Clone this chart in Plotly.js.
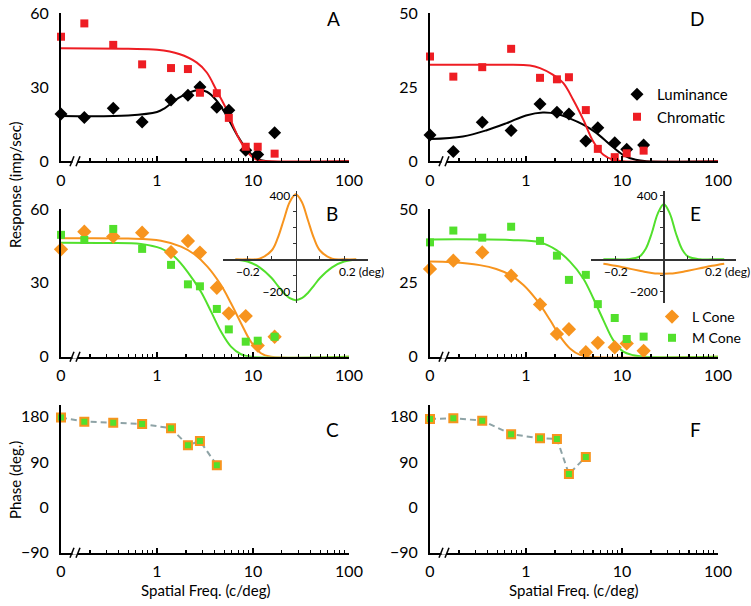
<!DOCTYPE html>
<html>
<head>
<meta charset="utf-8">
<script src="https://cdn.plot.ly/plotly-3.0.1.min.js"></script>
<style>
  html, body { margin: 0; padding: 0; background: #fff; }
  #chart { width: 751px; height: 606px; }
</style>
</head>
<body>
<div id="chart"></div>
<script>
// Spatial frequencies (c/deg); the 0 c/deg condition is drawn at the left edge (0.1)
const FREQ = [0, 0.175, 0.35, 0.7, 1.4, 2.1, 2.8, 4.2, 5.6, 8.4, 11.2, 16.8];
const PHASE_FREQ = [0, 0.175, 0.35, 0.7, 1.4, 2.1, 2.8, 4.2];

// Panel A (imp/sec)
const A_LUM = [19.2, 17.8, 21.5, 15.9, 24.9, 26.8, 30.1, 21.9, 20.7, 4.5, 2.8, 11.6];
const A_CHR = [50.5, 55.9, 47.2, 39.3, 37.8, 37.4, 27.8, 27.6, 17.6, 5.9, 5.9, 3.1];
const A_LUM_FIT_X = [0.1, 0.5, 1, 1.2, 1.7, 2.6, 3.3, 4.2, 5.3, 6.8, 8.6, 10.9, 14, 100];
const A_LUM_FIT_Y = [18.4, 18.6, 20, 21.5, 25.8, 28.8, 28.2, 24.5, 18.5, 10.8, 4.8, 1.2, 0, 0];
const A_CHR_FIT_X = [0.1, 0.5, 1, 1.7, 2.6, 3.3, 4.2, 5.3, 6.2, 7.3, 8.6, 10, 12, 15, 100];
const A_CHR_FIT_Y = [45.8, 45.6, 45.2, 43.5, 40, 36, 28.5, 21, 14.5, 8.5, 4.2, 1.5, 0.2, 0, 0];

// Panel D
const D_LUM = [8.9, 3.3, 13.2, 10.4, 19.4, 16.6, 16.0, 6.9, 11.3, 6.3, 4.1, 5.5];
const D_CHR = [35.4, 28.6, 31.8, 38.0, 28.2, 27.7, 28.4, 17.3, 4.2, 1.4, 2.7, 3.6];
const D_LUM_FIT_X = [0.1, 0.22, 0.39, 0.63, 1.0, 1.5, 2.1, 2.8, 3.95, 5.4, 7.4, 10.2, 13.9, 18, 100];
const D_LUM_FIT_Y = [7.5, 8.4, 10.5, 12.9, 15.5, 16.5, 16.0, 14.6, 12.4, 9.6, 5.8, 2.2, 0.5, 0, 0];
const D_CHR_FIT_X = [0.1, 0.5, 1.1, 1.4, 1.9, 2.45, 3.1, 3.95, 5.0, 6.4, 8.1, 10.3, 100];
const D_CHR_FIT_Y = [32.6, 32.6, 32.4, 31.5, 29.3, 26.4, 20.8, 14.1, 6.8, 2.2, 0.5, 0, 0];

// Panel B
const B_L = [43.6, 50.8, 48.8, 50.4, 42.5, 47.0, 42.3, 28.0, 17.6, 16.5, 4.5, 8.1];
const B_M = [49.5, 47.4, 51.9, 43.8, 37.3, 29.4, 28.6, 19.4, 11.1, 6.1, 6.5, 8.1];
const B_L_FIT_X = [0.1, 0.5, 1.1, 1.78, 2.45, 3.35, 4.64, 5.9, 7.5, 9.5, 12.1, 15.4, 100];
const B_L_FIT_Y = [48.1, 48.0, 47.1, 44.7, 41.6, 36.6, 29.1, 21.7, 13.6, 6.1, 1.4, 0, 0];
const B_M_FIT_X = [0.1, 0.3, 0.68, 1.1, 1.52, 2.08, 2.87, 3.66, 4.64, 5.9, 7.5, 9.5, 100];
const B_M_FIT_Y = [46.3, 46.2, 45.8, 44.0, 40.6, 34.5, 26.4, 18.3, 10.2, 4.1, 1.0, 0, 0];

// Panel E
const E_L = [29.7, 32.5, 35.3, 27.4, 17.7, 7.7, 9.3, 1.5, 4.7, 3.2, 4.5, 2.0];
const E_M = [38.7, 42.7, 40.3, 44.0, 39.2, 34.2, 26.0, 27.7, 17.8, 13.1, 6.0, 6.8];
const E_L_FIT_X = [0.1, 0.17, 0.33, 0.49, 0.68, 0.94, 1.29, 1.78, 2.27, 2.87, 3.66, 4.6, 100];
const E_L_FIT_Y = [32.2, 32.0, 31.0, 29.7, 27.7, 24.3, 19.2, 12.4, 6.8, 2.8, 0.6, 0, 0];
const E_M_FIT_X = [0.1, 0.68, 1.4, 2.08, 2.87, 3.95, 5.02, 6.39, 8.1, 10.3, 13.1, 17, 100];
const E_M_FIT_Y = [39.7, 39.5, 38.7, 36.1, 32.2, 26.5, 19.8, 12.4, 5.6, 1.7, 0.5, 0, 0];

// Panels C and F: phase (deg.)
const C_PHASE = [178, 170, 168, 165.4, 156.8, 123, 131.7, 83.4];
const F_PHASE = [175.4, 176.7, 172, 145, 137, 135.7, 66, 100];

// Insets: receptive field profiles (position in deg)
const RF_X = [-0.25, -0.2, -0.15, -0.1, -0.075, -0.05, -0.025, 0, 0.025, 0.05, 0.075, 0.1, 0.15, 0.2, 0.25];
const B_RF_L = [0, 0, 4, 55, 132, 246, 358, 406, 358, 246, 132, 55, 4, 0, 0];
const B_RF_M = [-3, -14, -50, -117, -164, -210, -243, -255, -243, -210, -164, -117, -50, -14, -3];
const E_RF_M = [0, 0, 0.4, 18, 65, 163, 286, 344, 286, 163, 65, 18, 0.4, 0, 0];
const E_RF_L = [-27, -40, -56, -71, -79, -85, -89, -90, -89, -85, -79, -71, -56, -40, -27];

// Axis ticks
const MAJOR_TICKS = [0.1, 1, 10, 100];
const MAJOR_LABELS = ['0', '1', '10', '100'];
const MINOR_TICKS = [0.2, 0.3, 0.4, 0.5, 0.6, 0.7, 0.8, 0.9, 2, 3, 4, 5, 6, 7, 8, 9,
  20, 30, 40, 50, 60, 70, 80, 90];

const BLACK = '#000000';
const RED = '#ee1d23';
const ORANGE = '#f7941e';
const GREEN = '#52e02c';
const DASH = '#8ea3a6';
const FONT = 'Lato, "Open Sans", sans-serif';

const px = x => x / 751;
const py = y => 1 - y / 606;
const xPos = f => (f === 0 ? 0.1 : f);

const LEFT = [px(61), px(349)];
const RIGHT = [px(430), px(718)];
const ROW1 = [py(161.3), py(13.3)];
const ROW2 = [py(356.7), py(209)];
const ROW3 = [py(552.7), py(405)];

function freqAxis(domain, anchor) {
  return {
    type: 'log', domain: domain, anchor: anchor, range: [-1, 2],
    showline: true, linecolor: BLACK, linewidth: 2,
    showgrid: false, zeroline: false,
    tickmode: 'array', tickvals: MAJOR_TICKS, ticktext: MAJOR_LABELS,
    ticks: 'inside', ticklen: 5, tickwidth: 1.2, tickcolor: BLACK,
    ticklabelstandoff: 3,
    minor: { tickmode: 'array', tickvals: MINOR_TICKS, ticks: 'inside', ticklen: 3, tickwidth: 1.2, tickcolor: BLACK, showgrid: false },
    tickfont: { size: 16 }
  };
}

function valueAxis(domain, anchor, range, tickvals) {
  return {
    domain: domain, anchor: anchor, range: range,
    showline: true, linecolor: BLACK, linewidth: 2,
    showgrid: false, zeroline: false,
    tickmode: 'array', tickvals: tickvals, ticks: '',
    ticklabelstandoff: 7,
    tickfont: { size: 16 }
  };
}

function insetX(domain, yZero) {
  return {
    domain: domain, range: [-0.3, 0.3], anchor: 'free', position: yZero,
    showline: true, linecolor: '#333', linewidth: 1.5,
    showgrid: false, zeroline: false,
    tickmode: 'array', tickvals: [-0.2, -0.1, 0.1, 0.2], ticktext: ['', '', '', ''],
    ticks: 'inside', ticklen: 3, tickcolor: '#333'
  };
}

function insetY(domain, xZero) {
  return {
    domain: domain, range: [-271, 427], anchor: 'free', position: xZero,
    showline: true, linecolor: '#333', linewidth: 1.5,
    showgrid: false, zeroline: false,
    tickmode: 'array', tickvals: [-200, -100, 100, 200, 300, 400],
    ticktext: ['\u2212200', '', '', '', '', '400'],
    ticks: 'outside', ticklen: 3, tickcolor: '#333',
    tickfont: { size: 12 }
  };
}

function fitLine(x, y, color, xa, ya) {
  return {
    type: 'scatter', mode: 'lines', x: x, y: y, xaxis: xa, yaxis: ya,
    line: { color: color, width: 2, shape: 'spline', smoothing: 1 },
    showlegend: false, hoverinfo: 'skip'
  };
}

function points(freq, y, symbol, color, size, xa, ya, name, legend) {
  return {
    type: 'scatter', mode: 'markers', name: name || '',
    x: freq.map(xPos), y: y, xaxis: xa, yaxis: ya,
    marker: { symbol: symbol, color: color, size: size },
    cliponaxis: false,
    showlegend: !!legend, legend: legend || 'legend'
  };
}

function phase(y, xa, ya) {
  return {
    type: 'scatter', mode: 'lines+markers',
    x: PHASE_FREQ.map(xPos), y: y, xaxis: xa, yaxis: ya,
    line: { color: DASH, width: 2, dash: '6px,4px' },
    marker: { symbol: 'square', size: 8, color: GREEN, line: { color: ORANGE, width: 2 } },
    cliponaxis: false, showlegend: false
  };
}

function rf(y, color, xa, ya) {
  return {
    type: 'scatter', mode: 'lines', x: RF_X, y: y, xaxis: xa, yaxis: ya,
    line: { color: color, width: 2, shape: 'spline', smoothing: 1 },
    cliponaxis: false, showlegend: false, hoverinfo: 'skip'
  };
}

const data = [
  // A
  fitLine(A_LUM_FIT_X, A_LUM_FIT_Y, BLACK, 'x', 'y'),
  fitLine(A_CHR_FIT_X, A_CHR_FIT_Y, RED, 'x', 'y'),
  points(FREQ, A_LUM, 'diamond', BLACK, 10, 'x', 'y'),
  points(FREQ, A_CHR, 'square', RED, 8, 'x', 'y'),
  // D
  fitLine(D_LUM_FIT_X, D_LUM_FIT_Y, BLACK, 'x2', 'y2'),
  fitLine(D_CHR_FIT_X, D_CHR_FIT_Y, RED, 'x2', 'y2'),
  points(FREQ, D_LUM, 'diamond', BLACK, 10, 'x2', 'y2', 'Luminance', 'legend'),
  points(FREQ, D_CHR, 'square', RED, 8, 'x2', 'y2', 'Chromatic', 'legend'),
  // B
  fitLine(B_L_FIT_X, B_L_FIT_Y, ORANGE, 'x3', 'y3'),
  fitLine(B_M_FIT_X, B_M_FIT_Y, GREEN, 'x3', 'y3'),
  points(FREQ, B_L, 'diamond', ORANGE, 11, 'x3', 'y3'),
  points(FREQ, B_M, 'square', GREEN, 8, 'x3', 'y3'),
  // E
  fitLine(E_L_FIT_X, E_L_FIT_Y, ORANGE, 'x4', 'y4'),
  fitLine(E_M_FIT_X, E_M_FIT_Y, GREEN, 'x4', 'y4'),
  points(FREQ, E_L, 'diamond', ORANGE, 11, 'x4', 'y4', 'L Cone', 'legend2'),
  points(FREQ, E_M, 'square', GREEN, 8, 'x4', 'y4', 'M Cone', 'legend2'),
  // C, F
  phase(C_PHASE, 'x5', 'y5'),
  phase(F_PHASE, 'x6', 'y6'),
  // insets
  rf(B_RF_M, GREEN, 'x7', 'y7'),
  rf(B_RF_L, ORANGE, 'x7', 'y7'),
  rf(E_RF_L, ORANGE, 'x8', 'y8'),
  rf(E_RF_M, GREEN, 'x8', 'y8')
];

function breakMarks(cx, cy) {
  return [
    { type: 'rect', xref: 'paper', yref: 'paper', x0: px(cx - 2.5), x1: px(cx + 2.5), y0: py(cy + 2), y1: py(cy - 2),
      fillcolor: 'white', line: { width: 0 } },
    { type: 'line', xref: 'paper', yref: 'paper', x0: px(cx - 5), y0: py(cy + 5), x1: px(cx - 1), y1: py(cy - 5),
      line: { color: BLACK, width: 1.5 } },
    { type: 'line', xref: 'paper', yref: 'paper', x0: px(cx + 1), y0: py(cy + 5), x1: px(cx + 5), y1: py(cy - 5),
      line: { color: BLACK, width: 1.5 } }
  ];
}

function label(text, x, y, size, extra) {
  return Object.assign({
    text: text, xref: 'paper', yref: 'paper', x: px(x), y: py(y),
    xanchor: 'center', yanchor: 'middle',
    showarrow: false, font: { size: size, color: BLACK }
  }, extra || {});
}

const annotations = [
  label('A', 333, 19, 19), label('D', 697, 19, 19),
  label('B', 332, 213, 19), label('E', 695, 213, 19),
  label('C', 332, 429, 19), label('F', 695, 429, 19),
  label('Response (imp/sec)', 15, 185, 15, { textangle: -90 }),
  label('Phase (deg.)', 15, 480, 15, { textangle: -90 }),
  label('Spatial Freq. (c/deg)', 205, 590, 15),
  label('Spatial Freq. (c/deg)', 573, 590, 15),
  label('\u22120.2', 248, 271, 12),
  label('0.2 (deg)', 337, 271, 12, { xanchor: 'left' }),
  label('\u22120.2', 615.5, 271, 12),
  label('0.2 (deg)', 703, 271, 12, { xanchor: 'left' })
];

const shapes = [].concat(
  breakMarks(75, 161.3), breakMarks(444, 161.3),
  breakMarks(75, 356.7), breakMarks(444, 356.7),
  breakMarks(75, 552.7), breakMarks(444, 552.7)
);

const layout = {
  width: 751, height: 606,
  margin: { l: 0, r: 0, t: 0, b: 0 },
  paper_bgcolor: 'white', plot_bgcolor: 'rgba(0,0,0,0)',
  font: { family: FONT, size: 15, color: BLACK },
  xaxis: freqAxis(LEFT, 'y'),
  yaxis: valueAxis(ROW1, 'x', [0, 60], [0, 30, 60]),
  xaxis2: freqAxis(RIGHT, 'y2'),
  yaxis2: valueAxis(ROW1, 'x2', [0, 50], [0, 25, 50]),
  xaxis3: freqAxis(LEFT, 'y3'),
  yaxis3: valueAxis(ROW2, 'x3', [0, 60], [0, 30, 60]),
  xaxis4: freqAxis(RIGHT, 'y4'),
  yaxis4: valueAxis(ROW2, 'x4', [0, 50], [0, 25, 50]),
  xaxis5: freqAxis(LEFT, 'y5'),
  yaxis5: valueAxis(ROW3, 'x5', [-90, 203], [-90, 0, 90, 180]),
  xaxis6: freqAxis(RIGHT, 'y6'),
  yaxis6: valueAxis(ROW3, 'x6', [-90, 203], [-90, 0, 90, 180]),
  xaxis7: insetX([px(223.3), px(368.3)], py(259.3)),
  yaxis7: insetY([py(302.7), py(191)], px(295.7)),
  xaxis8: insetX([px(591.3), px(736.3)], py(259.3)),
  yaxis8: insetY([py(302.7), py(191)], px(663)),
  legend: {
    x: px(617), y: py(78), xanchor: 'left', yanchor: 'top',
    bgcolor: 'rgba(0,0,0,0)', font: { size: 15 }, itemclick: false
  },
  legend2: {
    x: px(652), y: py(301), xanchor: 'left', yanchor: 'top',
    bgcolor: 'rgba(0,0,0,0)', font: { size: 14 }, itemclick: false
  },
  annotations: annotations,
  shapes: shapes
};

Plotly.newPlot('chart', data, layout, { staticPlot: true });
</script>
</body>
</html>
